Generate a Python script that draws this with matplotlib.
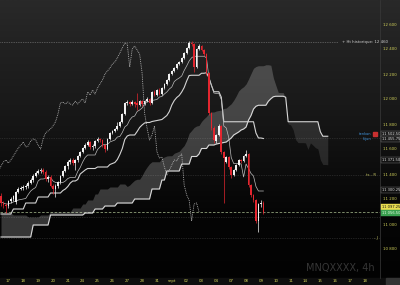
import matplotlib
matplotlib.use("Agg")
import matplotlib.pyplot as plt
from matplotlib.colors import LinearSegmentedColormap
from matplotlib.patches import Rectangle
import numpy as np
import pandas as pd

##-------------------------------------------------------------
# MNQ 4h candles, 17 aug -> 09 sept
opens = [11224, 11168, 11152, 11144, 11184, 11200, 11176, 11256, 11280, 11288,
         11296, 11304, 11328, 11352, 11384, 11408, 11424, 11432, 11416, 11360,
         11376, 11304, 11280, 11304, 11336, 11384, 11424, 11464, 11496, 11512,
         11488, 11512, 11544, 11576, 11608, 11632, 11656, 11616, 11624, 11664,
         11680, 11672, 11632, 11600, 11680, 11728, 11744, 11760, 11784, 11816,
         11880, 11968, 11976, 11960, 11976, 11968, 11952, 11984, 11960, 11984,
         12000, 11968, 12056, 12032, 12072, 12040, 12088, 12120, 12152, 12200,
         12224, 12248, 12280, 12296, 12328, 12368, 12408, 12448, 12440, 12256,
         12400, 12424, 12392, 12360, 12208, 11888, 11768, 11664, 11712, 11784,
         11576, 11496, 11536, 11456, 11392, 11432, 11472, 11512, 11504, 11544,
         11560, 11312, 11232, 11192, 11024, 11160, 11168]
highs = [11248, 11184, 11168, 11192, 11216, 11232, 11264, 11296, 11304, 11312,
         11320, 11344, 11368, 11400, 11424, 11440, 11448, 11448, 11432, 11392,
         11392, 11320, 11320, 11344, 11392, 11432, 11472, 11512, 11528, 11528,
         11520, 11552, 11584, 11616, 11648, 11672, 11664, 11640, 11672, 11696,
         11688, 11680, 11640, 11688, 11736, 11752, 11768, 11816, 11824, 11888,
         11976, 11992, 11984, 11992, 11984, 12048, 11992, 11992, 11992, 12016,
         12008, 12064, 12072, 12080, 12088, 12096, 12128, 12160, 12208, 12232,
         12256, 12288, 12304, 12336, 12376, 12416, 12464, 12468, 12448, 12408,
         12440, 12432, 12400, 12368, 12216, 11896, 11784, 11720, 11800, 11792,
         11584, 11544, 11544, 11464, 11440, 11480, 11520, 11520, 11552, 11592,
         11568, 11320, 11240, 11200, 11168, 11192, 11184]
lows = [11144, 11128, 11088, 11128, 11168, 11184, 11160, 11248, 11272, 11272,
        11280, 11288, 11320, 11336, 11376, 11400, 11408, 11400, 11344, 11336,
        11296, 11240, 11216, 11288, 11320, 11376, 11416, 11440, 11480, 11472,
        11432, 11496, 11536, 11568, 11600, 11624, 11600, 11592, 11608, 11656,
        11656, 11616, 11576, 11592, 11672, 11720, 11736, 11752, 11776, 11808,
        11872, 11952, 11944, 11952, 11936, 11912, 11944, 11944, 11952, 11976,
        11952, 11960, 12024, 12024, 12032, 12032, 12080, 12112, 12144, 12192,
        12216, 12240, 12272, 12288, 12320, 12360, 12400, 12424, 12216, 12248,
        12392, 12384, 12344, 12192, 11872, 11752, 11648, 11648, 11704, 11560,
        11168, 11488, 11440, 11368, 11384, 11424, 11464, 11488, 11496, 11536,
        11296, 11216, 11176, 11008, 10936, 11136, 11080]
closes = [11168, 11152, 11144, 11184, 11200, 11224, 11256, 11280, 11288, 11296,
          11304, 11328, 11352, 11384, 11408, 11424, 11432, 11416, 11360, 11376,
          11304, 11280, 11304, 11336, 11384, 11424, 11464, 11496, 11512, 11488,
          11512, 11544, 11576, 11608, 11632, 11656, 11616, 11624, 11664, 11680,
          11672, 11632, 11600, 11680, 11728, 11744, 11760, 11784, 11816, 11880,
          11968, 11976, 11960, 11976, 11960, 11952, 11984, 11960, 11984, 12000,
          11968, 12056, 12032, 12072, 12040, 12088, 12120, 12152, 12200, 12224,
          12248, 12280, 12296, 12328, 12368, 12408, 12448, 12440, 12256, 12400,
          12424, 12392, 12360, 12208, 11888, 11768, 11672, 11712, 11784, 11576,
          11528, 11536, 11456, 11392, 11432, 11472, 11512, 11504, 11544, 11560,
          11312, 11232, 11192, 11024, 11160, 11168, 11097.25]

day_labels = ['17', '18', '19', '20', '21', '24', '25', '26', '27', '28', '31', 'sept',
              '02', '03', '04', '07', '08', '09', '10', '11', '14', '15', '16', '17', '18']
bars_per_day = 6

# ichimoku values before the window is full (history is off the chart)
tenkan_start = [11176, 11168, 11160, 11160, 11168, 11176, 11184, 11192]
kijun_start = [11080] * 5 + [11120] * 5 + [11168] * 5 + [11216] * 5 + [11248] * 5
ssa_start = ([11088] * 5 + [11072] * 6 + [11056] * 5 + [11072] * 4 + [11096] * 9 +
             [11128] * 4 + [11160] * 2 + [11192] * 3 + [11240] * 2 + [11280] * 4 +
             [11296] * 4 + [11320] * 3)
ssb_start = ([10896] * 13 + [10992] * 7 + [11072] * 14 + [11088] * 4 + [11120] * 4 +
             [11144] * 5 + [11168] * 7 + [11200] * 7 + [11280] * 4 + [11352] * 2 +
             [11424] * 6 + [11480] * 4)

y_ticks = [10800, 11000, 11200, 11400, 11600, 11800, 12000, 12200, 12400, 12600]
ath_level = 12460
dotted_levels = [11690, 11395, 11056, 10890]
last_price = 11097.25
##-------------------------------------------------------------

df = pd.DataFrame({'open': opens, 'high': highs, 'low': lows, 'close': closes})
n = len(df)
shift = 26
x = np.arange(n)


def midpoint(win):
    return ((df['high'].rolling(win).max() + df['low'].rolling(win).min()) / 2).to_numpy()


tenkan = midpoint(9)
tenkan[:len(tenkan_start)] = tenkan_start
kijun = midpoint(26)
kijun[:len(kijun_start)] = kijun_start

xc = np.arange(n + shift)
ssa = np.full(n + shift, np.nan)
ssa[shift:] = (tenkan + kijun) / 2
ssa[:len(ssa_start)] = ssa_start
ssb = np.full(n + shift, np.nan)
ssb[shift:] = midpoint(52)
ssb[:len(ssb_start)] = ssb_start

##-------------------------------------------------------------
fig = plt.figure(figsize=(4, 2.85), dpi=100)
fig.patch.set_facecolor('#000000')

bg = fig.add_axes([0, 0, 1, 1], zorder=0)
bg_cmap = LinearSegmentedColormap.from_list(
    'bg', [(0, '#020202'), (0.25, '#050505'), (0.45, '#0f0f0f'), (0.65, '#1a1a1a'),
           (0.85, '#222222'), (1, '#292929')])
bg.imshow(np.linspace(1, 0, 256).reshape(-1, 1), aspect='auto', cmap=bg_cmap,
          extent=[0, 1, 0, 1], vmin=0, vmax=1)
bg.axis('off')

fig.patches.append(Rectangle((0, 0), 1, 7 / 285, transform=fig.transFigure,
                             color='#0e0e0e', zorder=0.5))
fig.patches.append(Rectangle((386 / 400, 0), 14 / 400, 7 / 285, transform=fig.transFigure,
                             color='#333333', zorder=0.6))

ax = fig.add_axes([0, 7 / 285, 380 / 400, 278 / 285], zorder=1)
ax.set_facecolor('none')

# cloud
ax.fill_between(xc, ssa, ssb, where=ssa >= ssb, interpolate=True, color='white',
                alpha=0.2, lw=0, zorder=2)
ax.fill_between(xc, ssa, ssb, where=ssa < ssb, interpolate=True, color='white',
                alpha=0.11, lw=0, zorder=2)
ax.plot(xc, ssb, color='#d9d9d9', lw=0.8, zorder=3)

ax.plot(x, kijun, color='#d4d4d4', lw=0.8, zorder=3)
ax.plot(x, tenkan, color='#bdbdbd', lw=0.5, zorder=3)
ax.plot(x - shift, closes, color='#c4c4c4', lw=0.6, ls=(0, (1, 1.2)), zorder=3)

# levels
ax.axhline(ath_level, xmax=0.89, color='#8a8a8a', lw=0.5, ls=(0, (1, 1.5)), zorder=1)
for lv in dotted_levels:
    ax.axhline(lv, color='#404040', lw=0.5, ls=(0, (1, 1.5)), zorder=1)
ax.axhline(last_price, color='#8fa07a', lw=0.6, ls=(0, (3, 2)), zorder=1)

# candles
up = df['close'] >= df['open']
cols = np.where(up, '#f0f0f0', '#e3262f')
ax.vlines(x, df['low'], df['high'], colors=cols, lw=0.5, zorder=4)
body = np.maximum((df['close'] - df['open']).abs(), 5)
ax.bar(x, body, bottom=np.minimum(df['open'], df['close']), width=0.7,
       color=cols, lw=0, zorder=5)

ax.set_xlim(-0.4, 153.1)
ax.set_ylim(10568, 12792)

ax.set_xticks([bars_per_day * d + 3 for d in range(len(day_labels))])
ax.set_xticklabels(day_labels)
ax.yaxis.tick_right()
ax.set_yticks(y_ticks)
ax.set_yticklabels([f"{v:,}".replace(",", " ") for v in y_ticks])
ax.tick_params(axis='x', length=0, pad=0.8, labelsize=2.8, labelcolor='#d2d25a')
ax.tick_params(axis='y', length=0, pad=2.5, labelsize=2.8, labelcolor='#d2d25a')
for s in ['top', 'left', 'bottom']:
    ax.spines[s].set_visible(False)
ax.spines['right'].set_color('#3a3a3a')
ax.spines['right'].set_linewidth(0.5)

ax.text(0.9, ath_level, "+ Ht historique: 12 460", transform=ax.get_yaxis_transform(),
        fontsize=2.8, color='#cfcfcf', va='center', ha='left')
ax.text(0.99, dotted_levels[1], "ts - R", transform=ax.get_yaxis_transform(),
        fontsize=2.8, color='#c8c864', va='center', ha='right')
ax.text(0.995, dotted_levels[3], "- J", transform=ax.get_yaxis_transform(),
        fontsize=2.8, color='#c8c864', va='center', ha='right')
ax.text(0.987, 0.018, "MNQXXXX, 4h", transform=ax.transAxes, ha='right', va='bottom',
        color='#363636', fontsize=7)


def tag(py, text, fc, tc, ec):
    fig.text(381.5 / 400, 1 - py / 285, text, fontsize=2.6, color=tc, va='center',
             ha='left', bbox=dict(boxstyle='square,pad=0.15', fc=fc, ec=ec, lw=0.3))


tag(134, "11 502.50", '#1a1a1a', '#e0e0e0', '#777777')
tag(139, "11 455.75", '#1a1a1a', '#e0e0e0', '#777777')
tag(160, "11 371.50", '#141414', '#e0e0e0', '#777777')
tag(190, "11 300.25", '#101010', '#e0e0e0', '#777777')
tag(207, "11 097.25", '#e8dc50', '#111111', '#e8dc50')
tag(213, "11 056.50", '#3aa050', '#e8ffe8', '#3aa050')

fig.text(371 / 400, 1 - 134 / 285, "tenkan", fontsize=2.6, color='#3d8fd6', ha='right', va='center')
fig.text(371 / 400, 1 - 139 / 285, "kijun", fontsize=2.6, color='#3d8fd6', ha='right', va='center')
fig.patches.append(Rectangle((373 / 400, 1 - 136 / 285), 4 / 400, 4 / 285,
                             transform=fig.transFigure, color='#c83030', zorder=3))

fig.savefig('out.png', dpi=100, facecolor=fig.get_facecolor())
